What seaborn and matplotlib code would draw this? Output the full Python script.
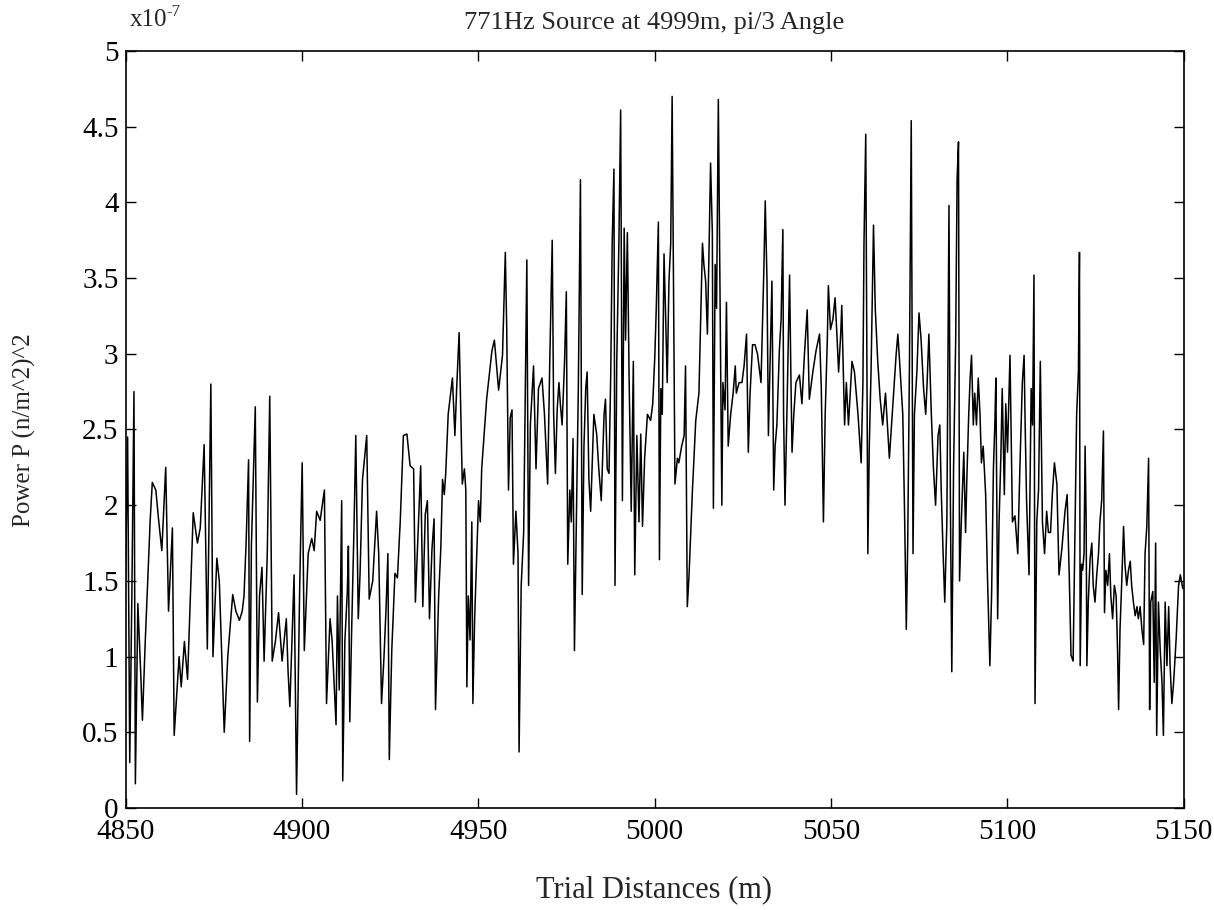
import matplotlib
matplotlib.use("Agg")
import matplotlib.pyplot as plt
import seaborn as sns
import pandas as pd

# Trial distances (m) and power (x1e-7 (n/m^2)^2)
distances = [
    4850.0, 4850.6, 4851.2, 4851.8, 4852.4, 4852.8, 4853.5, 4854.3, 4854.8, 4855.6,
    4857.0, 4857.6, 4858.6, 4859.4, 4860.3, 4861.4, 4862.2, 4863.3, 4863.8, 4865.2,
    4865.8, 4866.7, 4867.6, 4869.2, 4870.4, 4871.2, 4872.3, 4873.2, 4874.2, 4874.8,
    4875.9, 4876.6, 4878.0, 4879.0, 4880.4,
    4881.3, 4882.3, 4883.1, 4883.6, 4884.2, 4884.9, 4885.2, 4885.7, 4886.8, 4887.4,
    4888.0, 4888.7, 4889.3, 4890.2, 4890.9, 4891.6, 4892.5, 4893.4, 4894.4, 4895.6,
    4896.1, 4896.6, 4897.8, 4898.5, 4899.4, 4900.1, 4900.7, 4901.8, 4902.8, 4903.5,
    4904.2, 4905.2, 4906.4, 4907.0, 4908.0, 4908.6,
    4909.7, 4910.1, 4910.6, 4911.3, 4911.6, 4912.2, 4912.9, 4913.2, 4913.6, 4914.1,
    4914.8, 4915.3, 4916.0, 4916.5, 4917.2, 4918.4, 4919.1, 4920.1, 4921.2, 4921.8,
    4922.6, 4923.3, 4923.9, 4924.4, 4924.8, 4925.5, 4926.4, 4927.1, 4927.9, 4928.8,
    4929.8, 4930.7, 4931.7, 4932.2, 4933.1, 4933.7, 4934.3, 4935.0, 4935.6, 4936.2,
    4936.9, 4937.5, 4937.9, 4938.8, 4939.4, 4939.9,
    4940.4, 4940.8, 4941.5, 4942.7, 4943.4, 4943.9, 4944.6, 4945.1, 4945.5, 4946.1,
    4946.5, 4946.8, 4947.2, 4947.7, 4948.2, 4948.5, 4949.0, 4950.1, 4950.6, 4951.0,
    4952.4, 4953.9, 4954.6, 4955.8, 4956.9, 4957.7, 4958.1, 4958.6, 4959.1, 4959.6,
    4960.0, 4960.7, 4961.3, 4961.6, 4962.2, 4962.9, 4963.3, 4963.8, 4964.3, 4964.8,
    4965.7, 4966.4, 4967.1, 4968.1, 4968.8,
    4969.7, 4970.3, 4971.0, 4971.4, 4971.9, 4972.4, 4972.9, 4973.3, 4973.8, 4974.5,
    4975.0, 4975.4, 4976.0, 4976.4, 4976.9, 4977.3, 4977.9, 4978.4, 4979.0, 4979.5,
    4980.0, 4980.5, 4980.9, 4981.4, 4981.9, 4982.8, 4983.6, 4984.2, 4984.9, 4985.7,
    4986.1, 4986.6, 4987.1, 4987.6, 4988.0, 4988.5, 4988.8, 4989.3, 4989.9, 4990.4,
    4990.9, 4991.4, 4991.8, 4992.3, 4992.8, 4993.4, 4994.0, 4994.4, 4995.0, 4995.6,
    4996.1, 4996.6, 4997.2, 4998.0, 4998.9,
    4999.5, 5000.1, 5000.5, 5001.1, 5001.4, 5001.8, 5002.2, 5002.7, 5003.1, 5003.6,
    5004.1, 5004.6, 5005.0, 5005.5, 5005.8, 5006.5, 5006.9, 5007.7, 5008.4, 5008.8,
    5009.3, 5009.8, 5010.7, 5011.7, 5012.6, 5013.6, 5014.0, 5014.5, 5015.0, 5015.5,
    5015.9, 5016.4, 5016.7, 5017.2, 5017.6, 5018.1, 5018.6, 5019.1, 5019.4, 5020.0,
    5020.4, 5020.9, 5021.6, 5022.3, 5022.9, 5023.2, 5024.0, 5024.8, 5025.4, 5026.1,
    5026.6, 5027.1, 5027.8, 5028.5, 5029.2,
    5030.2, 5031.0, 5031.4, 5031.9, 5032.3, 5032.9, 5033.3, 5033.8, 5034.2, 5034.7,
    5035.4, 5035.9, 5036.4, 5036.6, 5037.0, 5037.6, 5038.3, 5038.7, 5039.0, 5039.5,
    5040.1, 5041.1, 5041.8, 5042.5, 5043.3, 5043.9, 5044.9, 5045.8, 5046.8, 5047.3,
    5047.9, 5048.4, 5049.0, 5049.3, 5049.9, 5050.6, 5051.2, 5051.8, 5052.2, 5052.8,
    5053.1, 5053.9, 5054.4, 5055.0, 5056.0, 5056.7, 5057.7, 5058.6, 5059.1, 5059.4,
    5059.9, 5060.5, 5060.9, 5061.4, 5062.1, 5062.6, 5063.3, 5064.0, 5064.7, 5065.5,
    5066.2, 5066.6, 5067.6, 5068.5, 5069.0, 5069.5, 5070.4, 5070.9, 5071.4, 5071.8,
    5072.3, 5072.8, 5073.3, 5073.7, 5074.4, 5075.0, 5075.6, 5076.3, 5076.9, 5077.3,
    5077.8, 5078.5, 5079.1, 5079.7, 5080.4, 5080.9, 5081.3, 5081.8, 5082.3, 5082.9,
    5083.5, 5083.9, 5084.3, 5084.8, 5085.4, 5085.8, 5086.2, 5086.5, 5087.0, 5087.7,
    5088.2, 5088.6, 5089.1,
    5089.5, 5089.9, 5090.4, 5090.8, 5091.3, 5091.8, 5092.3, 5092.7, 5093.2, 5093.9,
    5094.4, 5095.1, 5095.6, 5096.1, 5096.5, 5096.8, 5097.3, 5097.7, 5098.2, 5098.6,
    5099.2, 5099.6, 5100.1, 5100.8, 5101.5, 5102.2, 5103.0, 5103.6, 5104.3, 5104.8,
    5105.1, 5105.5, 5106.2, 5106.8, 5107.2, 5107.6, 5107.9, 5108.4, 5108.9, 5109.4,
    5110.0, 5110.6, 5111.2, 5111.7, 5112.3, 5112.8, 5113.4, 5114.1, 5114.7, 5115.5,
    5116.4, 5117.0, 5117.6, 5118.1, 5118.7,
    5119.2, 5119.7, 5120.2, 5120.5, 5120.7, 5121.1, 5121.4, 5121.8, 5122.1, 5122.4,
    5122.6, 5123.0, 5123.5, 5124.0, 5124.4, 5124.9, 5125.4, 5125.9, 5126.3, 5126.8,
    5127.3, 5127.6, 5128.0, 5128.5, 5129.0, 5129.4, 5129.9, 5130.4, 5130.9, 5131.3,
    5131.6, 5132.0, 5132.5, 5133.0, 5133.4, 5133.9, 5134.4, 5134.9, 5135.3, 5135.8,
    5136.3, 5136.8, 5137.2, 5137.7, 5138.2, 5138.7, 5139.1, 5139.6, 5140.1, 5140.4,
    5140.7, 5141.3, 5141.7, 5142.1, 5142.4, 5142.9, 5143.4, 5143.9, 5144.3, 5144.8,
    5145.3, 5145.8, 5146.2, 5146.7, 5147.2, 5147.9, 5148.6, 5149.1, 5149.8,
]

power = [
    1.5, 2.45, 0.3, 1.4, 2.75, 0.16, 1.35, 0.9, 0.58, 1.1,
    1.9, 2.15, 2.1, 1.9, 1.7, 2.25, 1.3, 1.85, 0.48, 1.0,
    0.8, 1.1, 0.85, 1.95, 1.75, 1.85, 2.4, 1.05, 2.8, 1.0,
    1.65, 1.5, 0.5, 1.0, 1.41,
    1.3, 1.24, 1.3, 1.4, 1.75, 2.3, 0.44, 1.73, 2.65, 0.7,
    1.4, 1.59, 0.97, 1.68, 2.72, 0.97, 1.1, 1.29, 0.97, 1.25,
    0.9, 0.67, 1.54, 0.09, 1.47, 2.28, 1.04, 1.68, 1.78, 1.7,
    1.96, 1.9, 2.1, 0.69, 1.25, 1.1,
    0.55, 1.4, 0.78, 2.03, 0.18, 1.1, 1.43, 1.73, 0.57, 1.15,
    1.86, 2.46, 1.25, 1.54, 2.17, 2.46, 1.38, 1.5, 1.96, 1.68,
    0.69, 1.0, 1.33, 1.68, 0.32, 1.04, 1.55, 1.52, 1.89, 2.46,
    2.47, 2.26, 2.24, 1.36, 1.89, 2.26, 1.33, 1.94, 2.03, 1.25,
    1.71, 1.91, 0.65, 1.4, 1.71, 2.17,
    2.07, 2.21, 2.6, 2.84, 2.46, 2.77, 3.14, 2.6, 2.14, 2.24,
    2.1, 0.8, 1.4, 1.11, 1.89, 0.69, 1.25, 2.03, 1.89, 2.24,
    2.7, 3.02, 3.09, 2.76, 2.99, 3.67, 3.16, 2.1, 2.58, 2.63,
    1.61, 1.96, 1.68, 0.37, 1.47, 1.82, 2.6, 3.62, 1.47, 2.53,
    2.92, 2.24, 2.77, 2.84, 2.6,
    2.14, 2.95, 3.75, 2.6, 2.21, 2.63, 2.81, 2.67, 2.53, 2.95,
    3.41, 1.61, 2.1, 1.89, 2.44, 1.04, 1.96, 2.77, 4.15, 1.41,
    2.39, 2.77, 2.88, 2.17, 1.96, 2.6, 2.47, 2.24, 2.03, 2.6,
    2.7, 2.24, 2.21, 2.88, 3.73, 4.22, 1.47, 2.95, 3.73, 4.61,
    2.03, 3.83, 3.09, 3.8, 2.84, 1.96, 2.95, 1.54, 2.46, 1.89,
    2.47, 1.86, 2.31, 2.6, 2.56,
    2.67, 2.99, 3.3, 3.87, 1.64, 2.77, 2.6, 3.66, 3.3, 2.81,
    3.48, 3.73, 4.7, 3.09, 2.14, 2.31, 2.28, 2.39, 2.46, 2.92,
    1.33, 1.54, 2.07, 2.56, 2.74, 3.73, 3.59, 3.48, 3.13, 3.73,
    4.26, 3.8, 1.98, 3.59, 3.3, 4.68, 3.37, 2.0, 2.81, 2.63,
    3.34, 2.39, 2.6, 2.74, 2.92, 2.74, 2.81, 2.81, 2.92, 3.13,
    2.35, 2.74, 3.06, 3.06, 3.0,
    2.81, 3.55, 4.01, 3.48, 2.46, 3.09, 3.48, 2.1, 2.39, 2.53,
    3.02, 3.23, 3.82, 2.6, 2.0, 2.67, 3.52, 2.81, 2.35, 2.6,
    2.81, 2.86, 2.67, 2.99, 3.29, 2.7, 2.88, 3.02, 3.13, 2.77,
    1.89, 2.6, 3.09, 3.45, 3.16, 3.23, 3.37, 3.09, 2.88, 3.13,
    3.32, 2.53, 2.81, 2.53, 2.95, 2.88, 2.6, 2.28, 2.81, 3.73,
    4.45, 1.68, 2.39, 2.88, 3.85, 3.3, 2.95, 2.7, 2.53, 2.74,
    2.46, 2.31, 2.67, 2.99, 3.13, 2.95, 2.6, 1.96, 1.18, 1.75,
    2.95, 4.54, 1.68, 2.6, 2.88, 3.27, 3.09, 2.77, 2.6, 2.81,
    3.13, 2.6, 2.24, 2.0, 2.46, 2.53, 2.1, 1.71, 1.36, 1.89,
    3.98, 2.03, 0.9, 2.24, 3.09, 4.15, 4.4, 1.5, 1.89, 2.35,
    1.82, 2.2, 2.6,
    2.84, 2.99, 2.53, 2.74, 2.53, 2.84, 2.6, 2.28, 2.39, 2.07,
    1.54, 0.94, 1.43, 2.24, 2.53, 2.84, 1.25, 1.89, 2.31, 2.77,
    2.07, 2.67, 2.35, 2.99, 1.89, 1.93, 1.68, 2.24, 2.81, 2.99,
    2.53, 2.03, 1.54, 2.77, 2.53, 3.52, 0.69, 1.89, 2.1, 2.95,
    1.89, 1.68, 1.96, 1.82, 1.82, 2.07, 2.28, 2.14, 1.54, 1.71,
    1.96, 2.07, 1.54, 1.01, 0.97,
    1.78, 2.6, 2.88, 3.67, 0.94, 1.61, 1.57, 1.68, 2.39, 1.89,
    0.94, 1.36, 1.64, 1.75, 1.47, 1.36, 1.54, 1.68, 1.89, 2.03,
    2.49, 1.29, 1.57, 1.47, 1.68, 1.4, 1.25, 1.47, 1.4, 1.04,
    0.65, 1.18, 1.5, 1.86, 1.61, 1.47, 1.57, 1.63, 1.47, 1.36,
    1.27, 1.33, 1.25, 1.33, 1.18, 1.08, 1.68, 1.86, 2.31, 0.65,
    1.36, 1.43, 0.83, 1.75, 0.48, 1.36, 1.04, 0.83, 0.48, 1.36,
    0.94, 1.33, 0.94, 0.69, 0.83, 1.11, 1.47, 1.54, 1.45,
]

x_ticks = [4850, 4900, 4950, 5000, 5050, 5100, 5150]
y_ticks = [0, 0.5, 1, 1.5, 2, 2.5, 3, 3.5, 4, 4.5, 5]
y_tick_labels = ["0", "0.5", "1", "1.5", "2", "2.5", "3", "3.5", "4", "4.5", "5"]

title_text = "771Hz Source at 4999m, pi/3 Angle"
x_label = "Trial Distances (m)"
y_label = "Power P (n/m^2)^2"
scale_base = "x10"
scale_exp = "-7"

sns.set_theme(style="ticks")
plt.rcParams["font.family"] = ["Liberation Serif", "DejaVu Serif"]

df = pd.DataFrame({"distance": distances, "power": power})

W, H = 1214, 910
fig = plt.figure(figsize=(W / 100, H / 100), dpi=100)
ax = fig.add_axes([125.5 / W, 1 - 808 / H, (1183.5 - 125.5) / W, (808 - 51) / H])

sns.lineplot(data=df, x="distance", y="power", ax=ax, color="black",
             linewidth=1.1, estimator=None, sort=False)

ax.set_xlim(4850, 5150)
ax.set_ylim(0, 5)
ax.set_xticks(x_ticks)
ax.set_xticklabels([str(v) for v in x_ticks])
ax.set_yticks(y_ticks)
ax.set_yticklabels(y_tick_labels)
ax.tick_params(direction="in", length=7, width=1.0, top=True, right=True,
               labelsize=21, colors="black")
ax.tick_params(axis="x", pad=8)
ax.tick_params(axis="y", pad=5)
for s in ax.spines.values():
    s.set_visible(True)
    s.set_linewidth(1.2)
    s.set_color("black")

ax.set_xlabel(x_label, fontsize=22, labelpad=22)
ax.set_ylabel("")
fig.text(24 / W, 1 - 430 / H, y_label, fontsize=18, rotation=90,
         ha="center", va="center")
ax.set_title(title_text, fontsize=19, pad=16)
fig.text(130 / W, 1 - 20 / H, scale_base, fontsize=18, ha="left", va="center")
fig.text(166 / W, 1 - 12 / H, scale_exp, fontsize=12, ha="left", va="center")

fig.savefig("out.png", dpi=100)
